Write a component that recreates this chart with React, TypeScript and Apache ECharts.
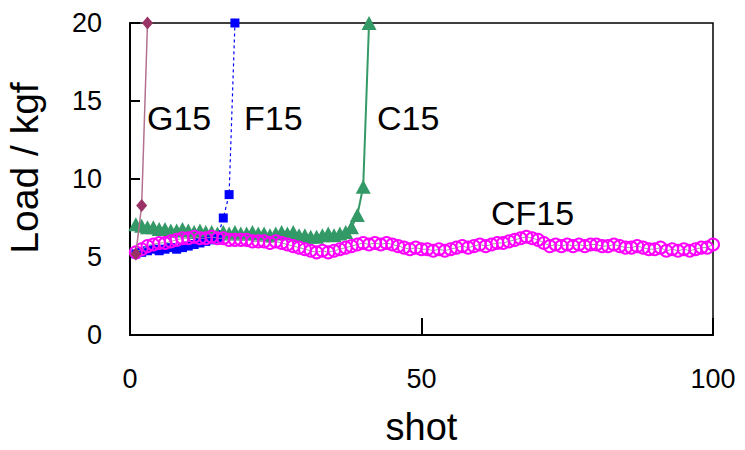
import React, { useEffect, useRef } from "react";
import * as echarts from "echarts";

const xTicks = [0, 50, 100];
const yTicks = [0, 5, 10, 15, 20];

const g15Load = [5.2, 8.3, 20];
const f15Load = [5.2, 5.3, 5.4, 5.5, 5.4, 5.5, 5.6, 5.5, 5.6, 5.7, 5.8, 5.9, 6.0, 6.1, 6.2, 7.5, 9.0, 20];
const c15Load = [
  7.1, 7.0, 6.9, 6.9, 6.8, 6.8, 6.7, 6.7, 6.8, 6.7,
  6.6, 6.7, 6.6, 6.6, 6.5, 6.6, 6.5, 6.6, 6.5, 6.5,
  6.6, 6.5, 6.5, 6.4, 6.5, 6.6, 6.5, 6.6, 6.4, 6.4,
  6.3, 6.3, 6.4, 6.5, 6.4, 6.5, 6.6, 6.9, 7.7, 9.5,
  20,
];
const cf15Load = [
  5.3, 5.5, 5.7, 5.8, 5.9, 5.9, 6.0, 6.1, 6.2, 6.2,
  6.3, 6.2, 6.2, 6.3, 6.2, 6.2, 6.1, 6.1, 6.1, 6.1,
  6.0, 6.0, 6.0, 5.9, 6.0, 5.9, 5.8, 5.7, 5.6, 5.5,
  5.4, 5.3, 5.4, 5.3, 5.4, 5.5, 5.6, 5.7, 5.8, 5.9,
  5.8, 5.9, 5.8, 5.9, 5.8, 5.7, 5.6, 5.5, 5.6, 5.5,
  5.5, 5.4, 5.5, 5.4, 5.5, 5.6, 5.7, 5.6, 5.7, 5.8,
  5.7, 5.8, 5.9, 5.9, 6.0, 6.1, 6.2, 6.3, 6.2, 6.1,
  5.9, 5.7, 5.8, 5.7, 5.8, 5.7, 5.8, 5.7, 5.8, 5.8,
  5.7, 5.7, 5.8, 5.7, 5.6, 5.6, 5.7, 5.6, 5.5, 5.5,
  5.6, 5.4, 5.5, 5.4, 5.5, 5.4, 5.5, 5.6, 5.6, 5.8,
];

const seriesLabels = ["G15", "F15", "C15", "CF15"];

const toPairs = (vals: number[]) => vals.map((v, i) => [i + 1, v]);

const FONT = "'Liberation Sans', Arial, sans-serif";

export default function App() {
  const ref = useRef<HTMLDivElement>(null);
  useEffect(() => {
    if (!ref.current) return;
    const chart = echarts.init(ref.current, undefined, { renderer: "svg" });
    chart.setOption({
      animation: false,
      backgroundColor: "#ffffff",
      grid: {
        left: 130,
        right: 32,
        top: 23,
        bottom: 115,
        containLabel: false,
        outerBoundsMode: "none",
        show: true,
        borderColor: "#000",
        borderWidth: 1.5,
        backgroundColor: "transparent",
      },
      xAxis: {
        type: "value",
        min: xTicks[0],
        max: xTicks[xTicks.length - 1],
        interval: 50,
        name: "shot",
        nameLocation: "middle",
        nameGap: 73,
        nameTextStyle: { fontFamily: FONT, fontSize: 38, color: "#000" },
        axisLine: { show: true, onZero: false, lineStyle: { color: "#000", width: 2 } },
        axisTick: { show: true, inside: true, length: 17, lineStyle: { color: "#000", width: 2 } },
        axisLabel: { fontFamily: FONT, fontSize: 27, color: "#000", margin: 30 },
        splitLine: { show: false },
      },
      yAxis: {
        type: "value",
        min: yTicks[0],
        max: yTicks[yTicks.length - 1],
        interval: 5,
        name: "Load / kgf",
        nameLocation: "middle",
        nameGap: 86,
        nameTextStyle: { fontFamily: FONT, fontSize: 39, color: "#000", padding: [0, 0, 0, 22] },
        axisLine: { show: true, onZero: false, lineStyle: { color: "#000", width: 2 } },
        axisTick: { show: true, inside: true, length: 10, lineStyle: { color: "#000", width: 2 } },
        axisLabel: { fontFamily: FONT, fontSize: 27, color: "#000", margin: 28 },
        splitLine: { show: false },
      },
      graphic: [
        { type: "text", left: 147, top: 101, style: { text: seriesLabels[0], font: `34px ${FONT}`, fill: "#000" } },
        { type: "text", left: 244, top: 101, style: { text: seriesLabels[1], font: `34px ${FONT}`, fill: "#000" } },
        { type: "text", left: 377, top: 101, style: { text: seriesLabels[2], font: `34px ${FONT}`, fill: "#000" } },
        { type: "text", left: 491, top: 196, style: { text: seriesLabels[3], font: `34px ${FONT}`, fill: "#000" } },
      ],
      series: [
        {
          name: seriesLabels[2],
          type: "line",
          data: toPairs(c15Load),
          symbol: "triangle",
          symbolSize: [15, 14],
          itemStyle: { color: "#339966" },
          lineStyle: { color: "#339966", width: 2 },
          z: 2,
        },
        {
          name: seriesLabels[1],
          type: "line",
          data: toPairs(f15Load),
          symbol: "rect",
          symbolSize: 9,
          itemStyle: { color: "#0000ff" },
          lineStyle: { color: "#0000ff", width: 1.2, type: [3, 3] },
          z: 3,
        },
        {
          name: seriesLabels[3],
          type: "line",
          data: toPairs(cf15Load),
          symbol: "circle",
          symbolSize: 12,
          itemStyle: { color: "rgba(255,255,255,0)", borderColor: "#ff00ff", borderWidth: 2, opacity: 1 },
          lineStyle: { color: "#999999", width: 1 },
          z: 4,
        },
        {
          name: seriesLabels[0],
          type: "line",
          data: toPairs(g15Load),
          symbol: "diamond",
          symbolSize: [11, 13],
          itemStyle: { color: "#993366" },
          lineStyle: { color: "#b3708f", width: 1.5 },
          z: 5,
        },
      ],
    });
    return () => chart.dispose();
  }, []);
  return (
    <div
      ref={ref}
      style={{ position: "fixed", left: 0, top: 0, width: 745, height: 450 }}
    />
  );
}
